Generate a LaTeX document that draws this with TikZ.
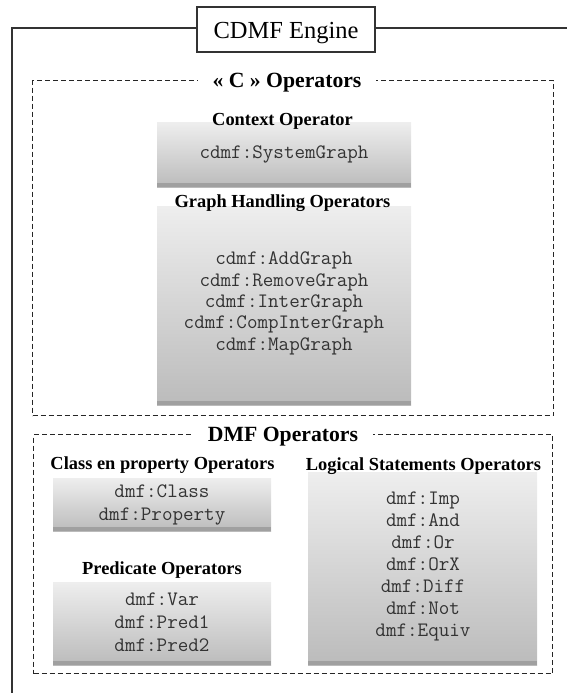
\documentclass[tikz,border=0pt]{standalone}
\usepackage{fontspec}
\setmainfont{Liberation Serif}
\definecolor{boxtop}{HTML}{EEEEEE}
\definecolor{boxbot}{HTML}{BBBBBB}
\definecolor{boxband}{HTML}{A0A0A0}
\definecolor{optxt}{HTML}{333333}
\tikzset{
  frameline/.style={draw=black!80, line width=1.1pt},
  dashframe/.style={draw=black!85, line width=1.1pt, dash pattern=on 5pt off 3pt, inner sep=0pt},
  enginebox/.style={draw=black!80, line width=1.1pt, fill=white, minimum width=178pt, minimum height=45pt,
    inner sep=0pt, font=\fontsize{24.5}{28}\selectfont, text height=17pt, text depth=0pt},
  grouptitle/.style={fill=white, inner xsep=15pt, inner ysep=2pt, anchor=base,
    font=\bfseries\fontsize{21.7}{25}\selectfont},
  subtitle/.style={inner sep=0pt, anchor=base, font=\bfseries\fontsize{18.4}{22}\selectfont},
  opbox/.style={anchor=north west, inner sep=0pt, top color=boxtop, bottom color=boxbot, draw=none,
    path picture={\fill[boxband] ([yshift=4pt]path picture bounding box.south west) rectangle (path picture bounding box.south east);}},
  optext/.style={inner sep=0pt, anchor=base, align=center, text=optxt},
}
\begin{document}
\begin{tikzpicture}[x=1pt,y=-1pt]
\useasboundingbox (0,0) rectangle (567,693);
% outer frame
\coordinate (fbl) at (12,693);
\coordinate (ftl) at (12,28);
\coordinate (ftr) at (567,28);
\draw[frameline] (fbl) -- (ftl) -- (ftr);
\node[enginebox] (engine) at (286,29.5) {CDMF Engine};

% C operators group
\node[dashframe, anchor=north west, minimum width=521pt, minimum height=335pt] (cgroup) at (32,80) {};
\node[grouptitle] (ctitle) at (287,87) {« C » Operators};

\node[opbox, minimum width=254pt, minimum height=65pt] (ctxbox) at (157,122) {};
\node[subtitle] (ctxtitle) at (282.5,125) {Context Operator};
\node[optext, font=\ttfamily\fontsize{20.5}{21.3}\selectfont] (ctxtext) at (284,158) {cdmf:SystemGraph};

\node[opbox, minimum width=254pt, minimum height=199pt] (graphbox) at (157,206) {};
\node[subtitle] (graphtitle) at (282.5,207) {Graph Handling Operators};
\node[optext, font=\ttfamily\fontsize{20.5}{21.3}\selectfont] (graphtext) at (284,350)
  {cdmf:AddGraph\\cdmf:RemoveGraph\\cdmf:InterGraph\\cdmf:CompInterGraph\\cdmf:MapGraph};

% DMF operators group
\node[dashframe, anchor=north west, minimum width=519pt, minimum height=239pt] (dgroup) at (33,434) {};
\node[grouptitle] (dtitle) at (283,441) {DMF Operators};

\node[opbox, minimum width=218pt, minimum height=53pt] (classbox) at (53,478) {};
\node[subtitle] (classtitle) at (162.5,469) {Class en property Operators};
\node[optext, font=\ttfamily\fontsize{20.5}{23}\selectfont] (classtext) at (162,520) {dmf:Class\\dmf:Property};

\node[opbox, minimum width=218pt, minimum height=83pt] (predbox) at (53,582) {};
\node[subtitle] (predtitle) at (162,574) {Predicate Operators};
\node[optext, font=\ttfamily\fontsize{20.5}{23}\selectfont] (predtext) at (162,651) {dmf:Var\\dmf:Pred1\\dmf:Pred2};

\node[opbox, minimum width=229pt, minimum height=193pt] (logbox) at (308,472) {};
\node[subtitle] (logtitle) at (423.5,470) {Logical Statements Operators};
\node[optext, font=\ttfamily\fontsize{20.5}{22}\selectfont] (logtext) at (423,636)
  {dmf:Imp\\dmf:And\\dmf:Or\\dmf:OrX\\dmf:Diff\\dmf:Not\\dmf:Equiv};
\end{tikzpicture}
\end{document}
